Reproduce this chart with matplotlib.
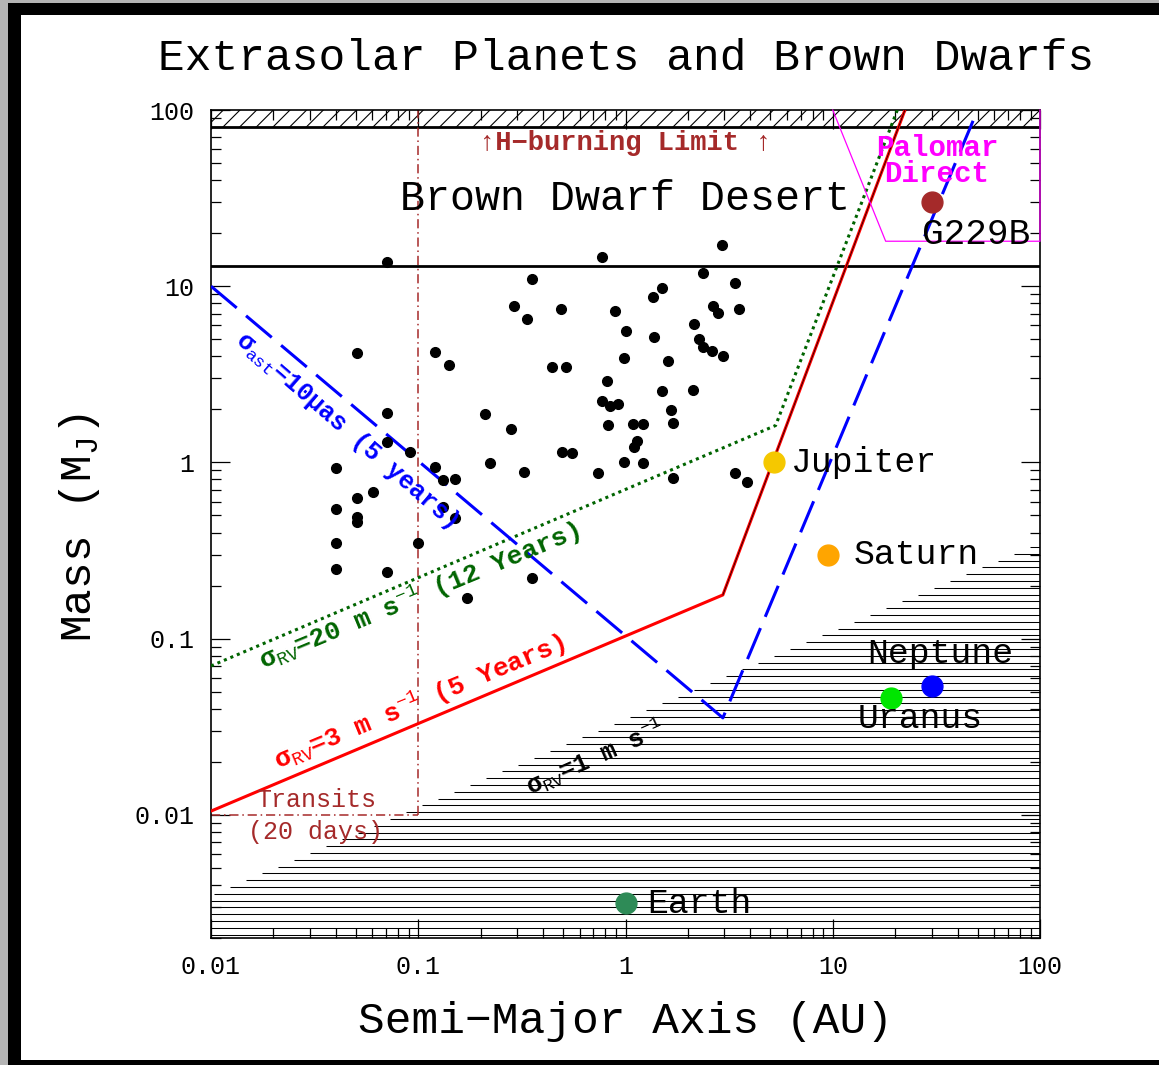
import numpy as np
import matplotlib.pyplot as plt
from matplotlib.patches import Rectangle
from matplotlib.ticker import NullFormatter

plt.rcParams['font.family'] = ['Liberation Mono', 'DejaVu Sans Mono']
plt.rcParams['mathtext.fontset'] = 'custom'
plt.rcParams['mathtext.rm'] = 'Liberation Mono'
plt.rcParams['mathtext.it'] = 'Liberation Mono:italic'
plt.rcParams['mathtext.bf'] = 'Liberation Mono:bold'
plt.rcParams['hatch.linewidth'] = 0.8

# --------- DATI ---------
# known companions: semi-major axis (AU) and minimum mass (M_J)
exo_a = [0.0705, 0.774, 2.91, 2.36, 3.37, 1.50, 1.35, 0.353, 0.291, 0.334,
         0.487, 0.887, 2.65, 2.80, 3.53, 1.01, 2.15, 1.37, 2.27, 2.37,
         2.60, 2.96, 0.984, 1.61, 0.0504, 0.120, 0.141, 0.443, 0.515, 0.814,
         1.50, 2.11, 0.768, 0.842, 0.923, 1.66, 1.70, 0.826, 1.09, 1.22,
         1.14, 1.10, 0.0705, 0.211, 0.281, 0.0705, 0.0912, 0.494, 0.554, 0.984,
         1.21, 0.222, 0.0401, 0.120, 0.737, 0.323, 1.70, 3.38, 3.85, 0.132,
         0.150, 0.0603, 0.0505, 0.132, 0.0401, 0.0505, 0.0505, 0.150, 0.0401, 0.100,
         0.0401, 0.0705, 0.353, 0.171]
exo_m = [13.8, 14.7, 17.2, 11.9, 10.4, 9.74, 8.66, 11.0, 7.73, 6.50,
         7.43, 7.22, 7.73, 7.09, 7.46, 5.60, 6.11, 5.18, 5.01, 4.54,
         4.31, 4.04, 3.91, 3.77, 4.16, 4.26, 3.55, 3.46, 3.46, 2.88,
         2.55, 2.58, 2.24, 2.08, 2.14, 1.99, 1.68, 1.63, 1.66, 1.66,
         1.33, 1.23, 1.90, 1.89, 1.55, 1.30, 1.15, 1.14, 1.13, 1.00,
         0.991, 0.991, 0.932, 0.938, 0.876, 0.888, 0.815, 0.876, 0.770, 0.797,
         0.810, 0.678, 0.627, 0.562, 0.541, 0.493, 0.462, 0.481, 0.351, 0.351,
         0.249, 0.239, 0.221, 0.170]

# solar system planets + G229B
sol_names = ['Jupiter', 'Saturn', 'Uranus', 'Neptune', 'Earth']
sol_a = [5.2, 9.5, 19.2, 30.1, 1.0]
sol_m = [1.0, 0.30, 0.046, 0.054, 0.00315]
sol_colors = ['#f5c800', '#ffa500', '#00e600', '#0000ff', '#2e8b57']
sol_offsets = [(12, 0), (18, 0), (21, -15), (6, 23), (16, 0)]
sol_ha = ['left', 'left', 'center', 'center', 'left']

g229b_a = 30.0
g229b_m = 30.0

# detection limits
rv20_a = [0.01, 5.3, 20.5]      # sigma_RV = 20 m/s, 12 years
rv20_m = [0.070, 1.62, 100]
rv3_a = [0.01, 2.95, 22.3]      # sigma_RV = 3 m/s, 5 years
rv3_m = [0.0105, 0.177, 100]
ast_a = [0.01, 2.95, 50]        # sigma_ast = 10 muas, 5 years
ast_m = [10, 0.0355, 100]

# sigma_RV = 1 m/s boundary: m = rv1_m0 * (a / rv1_a0)**0.5
rv1_a0 = 0.01
rv1_m0 = 0.0035

h_burning = 80
bd_lower = 13
transit_a = 0.1
transit_m = 0.01
palomar_a = [10, 18, 100, 100]
palomar_m = [100, 18, 18, 100]

xmin, xmax = 0.01, 100
ymin, ymax = 0.002, 100

# --------- FIGURA ---------
fig = plt.figure(figsize=(11.59, 10.65), dpi=100)
fig.patch.set_facecolor('#b4b4b4')
fig.add_artist(Rectangle((8 / 1159, 0), 1, 1 - 3 / 1065, transform=fig.transFigure,
                         facecolor='black', edgecolor='none', zorder=-2))
fig.add_artist(Rectangle((21 / 1159, 5 / 1065), 1, 1 - 20 / 1065, transform=fig.transFigure,
                         facecolor='white', edgecolor='none', zorder=-1))

ax = fig.add_axes([211 / 1159, 1 - 938 / 1065, 829 / 1159, 828 / 1065])
ax.set_xscale('log')
ax.set_yscale('log')
ax.set_xlim(xmin, xmax)
ax.set_ylim(ymin, ymax)

# hydrogen burning limit band
ax.fill_between([xmin, xmax], h_burning, ymax, facecolor='white', edgecolor='black',
                hatch='//', lw=0, zorder=1)
ax.axhline(h_burning, color='black', lw=2, zorder=2)
ax.axhline(bd_lower, color='black', lw=2, zorder=2)

# sigma_RV = 1 m/s region, horizontal hatching
rv1_top = rv1_m0 * (xmax / rv1_a0) ** 0.5
step = 0.0386
lev = 10 ** np.arange(np.log10(ymin) + step * 0.5, np.log10(rv1_top), step)
x_left = np.clip(rv1_a0 * (lev / rv1_m0) ** 2, xmin, xmax)
ax.hlines(lev, x_left, xmax, colors='black', lw=0.75, zorder=1)

# transit limit
ax.plot([transit_a, transit_a], [transit_m, ymax], color='#a52a2a', lw=1.1,
        linestyle=(0, (6, 2.5, 1, 2.5)), zorder=2)
ax.plot([xmin, transit_a], [transit_m, transit_m], color='#a52a2a', lw=1.1,
        linestyle=(0, (6, 2.5, 1, 2.5)), zorder=2)

# detection curves
ax.plot(rv20_a, rv20_m, color='#006400', lw=2.2, linestyle=(0, (1, 1.3)), zorder=3)
ax.plot(rv3_a, rv3_m, color='#ff0000', lw=2.2, zorder=3)
ax.plot(rv3_a[1:], rv3_m[1:], color='black', lw=0.5, zorder=3)
ax.plot(ast_a, ast_m, color='#0000ff', lw=2.2, linestyle=(0, (11, 4)), zorder=3)

# Palomar direct imaging box
ax.plot(palomar_a, palomar_m, color='#ff00ff', lw=0.9, clip_on=False, zorder=4)

# companions
ax.plot(exo_a, exo_m, 'o', color='black', ms=7, zorder=5)
ax.plot(g229b_a, g229b_m, 'o', color='#a52a2a', ms=15, zorder=5)
ax.annotate('G229B', (g229b_a, g229b_m), xytext=(32, -23), textcoords='offset points',
            ha='center', va='center', fontsize=26, zorder=6)

for name, a, m, c, off, ha in zip(sol_names, sol_a, sol_m, sol_colors, sol_offsets, sol_ha):
    ax.plot(a, m, 'o', color=c, ms=15, zorder=5)
    ax.annotate(name, (a, m), xytext=off, textcoords='offset points',
                ha=ha, va='center', fontsize=25, zorder=6)

# labels inside the plot
ax.text(1.0, 65, '↑H−burning Limit ↑', color='#a52a2a', fontsize=19.5,
        fontweight='bold', ha='center', va='center', zorder=6)
ax.text(1.0, 31.3, 'Brown Dwarf Desert', fontsize=30, ha='center', va='center', zorder=6)
ax.text(31.8, 61, 'Palomar', color='#ff00ff', fontsize=21, fontweight='bold',
        ha='center', va='center', zorder=6)
ax.text(31.8, 43.5, 'Direct', color='#ff00ff', fontsize=21, fontweight='bold',
        ha='center', va='center', zorder=6)
ax.text(0.0321, 0.0122, 'Transits', color='#a52a2a', fontsize=18,
        ha='center', va='center', zorder=6)
ax.text(0.0321, 0.00803, '(20 days)', color='#a52a2a', fontsize=18,
        ha='center', va='center', zorder=6)

ax.text(0.0453, 1.53, 'σ$_{\\rm ast}$=10µas (5 years)', color='#0000ff',
        fontsize=18, fontweight='bold', rotation=-41, rotation_mode='anchor',
        ha='center', va='center', zorder=6)
ax.text(0.1014, 0.174, 'σ$_{\\rm RV}$=20 m s$^{-1}$ (12 Years)', color='#006400',
        fontsize=19, fontweight='bold', rotation=22.5, rotation_mode='anchor',
        ha='center', va='center', zorder=6)
ax.text(0.102, 0.0436, 'σ$_{\\rm RV}$=3 m s$^{-1}$ (5 Years)', color='#ff0000',
        fontsize=19, fontweight='bold', rotation=22.5, rotation_mode='anchor',
        ha='center', va='center', zorder=6)
ax.text(0.712, 0.02125, 'σ$_{\\rm RV}$=1 m s$^{-1}$', color='black',
        fontsize=18, fontweight='bold', rotation=24, rotation_mode='anchor',
        ha='center', va='center', zorder=6)

# axes
ticks = [0.01, 0.1, 1, 10, 100]
tick_lab = ['0.01', '0.1', '1', '10', '100']
ax.set_xticks(ticks)
ax.set_xticklabels(tick_lab)
ax.set_yticks(ticks)
ax.set_yticklabels(tick_lab)
ax.xaxis.set_minor_formatter(NullFormatter())
ax.yaxis.set_minor_formatter(NullFormatter())
ax.tick_params(which='both', direction='in', top=True, right=True, width=0.9,
               labelsize=18, pad=12)
ax.tick_params(which='major', length=14)
ax.tick_params(which='minor', length=7)
for sp in ax.spines.values():
    sp.set_linewidth(1.2)

fig.text(626.5 / 1159, 1 - 58 / 1065, 'Extrasolar Planets and Brown Dwarfs',
         fontsize=32, ha='center', va='center')
fig.text(626 / 1159, 1 - 1022 / 1065, 'Semi−Major Axis (AU)',
         fontsize=32, ha='center', va='center')
fig.text(80 / 1159, 1 - 528 / 1065, 'Mass (M$_{\\rm J}$)',
         fontsize=32, ha='center', va='center', rotation=90)

fig.savefig('out.png', dpi=100)
